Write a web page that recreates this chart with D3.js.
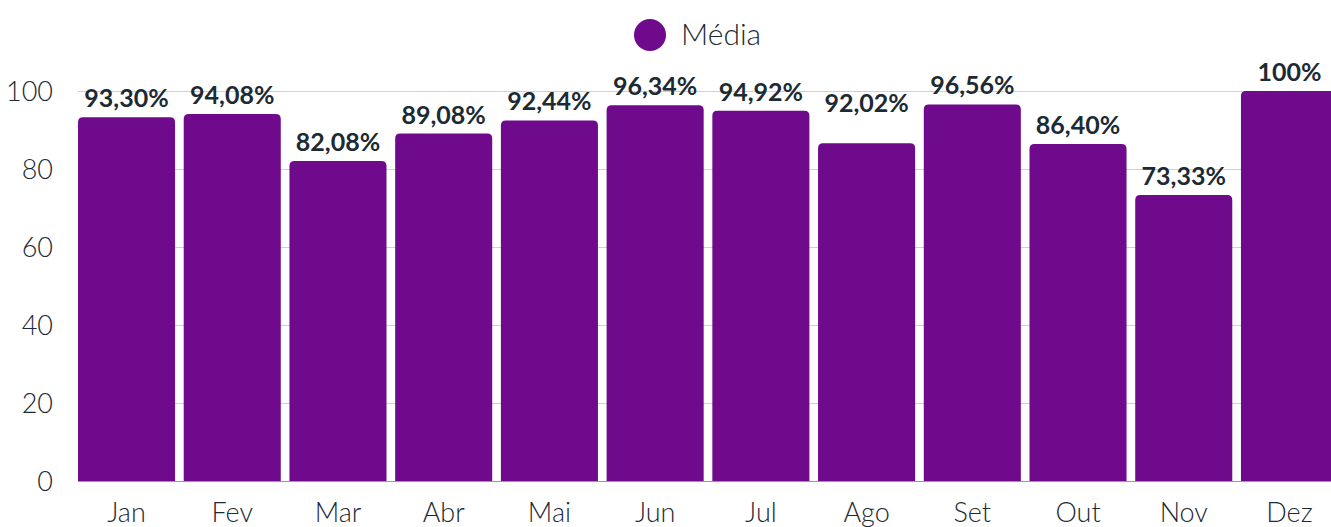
<!DOCTYPE html>
<html><head><meta charset="utf-8">
<script src="https://cdn.jsdelivr.net/npm/d3@7"></script>
<style>html,body{margin:0;padding:0;background:#fff;overflow:hidden}</style>
</head><body>
<svg id="c" width="1331" height="527"></svg>
<script>
const months = ["Jan","Fev","Mar","Abr","Mai","Jun","Jul","Ago","Set","Out","Nov","Dez"];
const values = [93.30, 94.08, 82.08, 89.08, 92.44, 96.34, 94.92, 86.6, 96.56, 86.40, 73.33, 100];
const labelValues = [93.30, 94.08, 82.08, 89.08, 92.44, 96.34, 94.92, 92.02, 96.56, 86.40, 73.33, 100];
const labels = ["93,30%","94,08%","82,08%","89,08%","92,44%","96,34%","94,92%","92,02%","96,56%","86,40%","73,33%","100%"];
const yTicks = [0, 20, 40, 60, 80, 100];
const seriesName = "Média";

const W = 1331, H = 527;
const margin = {left: 78, right: 1338, top: 91, bottom: 481};
const barColor = "#6f0a8c";
const textColor = "#1c2a33";
const font = "Lato, 'Noto Sans', sans-serif";

const svg = d3.select("#c");
const x = d3.scaleBand().domain(months).range([margin.left, margin.right]).paddingInner(0.082).paddingOuter(0);
const y = d3.scaleLinear().domain([0, 100]).range([margin.bottom, margin.top]);

// grid
svg.append("g").selectAll("line").data(yTicks).join("line")
  .attr("x1", margin.left).attr("x2", W)
  .attr("y1", d => y(d) + 0.5).attr("y2", d => y(d) + 0.5)
  .attr("stroke", d => d === 0 ? "#999" : "#d0d0d0").attr("stroke-width", 1);

// y axis labels
const yAxis = d3.axisLeft(y).tickValues(yTicks).tickSize(0).tickPadding(0);
const ga = svg.append("g").attr("transform", `translate(53,0)`).call(yAxis);
ga.select(".domain").remove();
ga.selectAll("text").attr("font-family", font).attr("font-size", 27).attr("font-weight", 300)
  .attr("fill", textColor).attr("dy", "0.34em");

// x axis labels
const xAxis = d3.axisBottom(x).tickSize(0).tickPadding(0);
const gx = svg.append("g").attr("transform", `translate(0,${margin.bottom})`).call(xAxis);
gx.select(".domain").remove();
gx.selectAll("text").attr("font-family", font).attr("font-size", 27).attr("font-weight", 300)
  .attr("fill", textColor).attr("y", 41).attr("dy", 0);

// bars with rounded top corners
const r = 5;
function barPath(d, i) {
  const x0 = x(months[i]), w = x.bandwidth(), y0 = y(d), yb = y(0);
  return `M${x0},${yb}V${y0 + r}Q${x0},${y0} ${x0 + r},${y0}H${x0 + w - r}Q${x0 + w},${y0} ${x0 + w},${y0 + r}V${yb}Z`;
}
svg.append("g").selectAll("path").data(values).join("path")
  .attr("d", barPath).attr("fill", barColor);

// value labels
svg.append("g").selectAll("text").data(labelValues).join("text")
  .attr("x", (d, i) => x(months[i]) + x.bandwidth() / 2)
  .attr("y", d => y(d) - 10)
  .attr("text-anchor", "middle")
  .attr("font-family", font).attr("font-size", 25).attr("font-weight", 700)
  .attr("fill", textColor)
  .text((d, i) => labels[i]);

// legend
const lg = svg.append("g");
lg.append("circle").attr("cx", 650).attr("cy", 35).attr("r", 16).attr("fill", barColor);
lg.append("text").attr("x", 681).attr("y", 45).attr("font-family", font).attr("font-size", 30)
  .attr("font-weight", 300).attr("fill", textColor).text(seriesName);
</script>
</body></html>
